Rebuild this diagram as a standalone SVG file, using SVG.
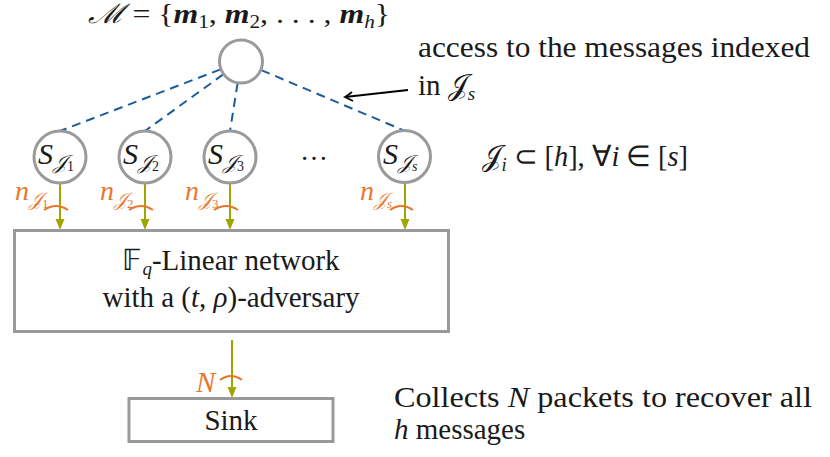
<svg xmlns="http://www.w3.org/2000/svg" width="830" height="457" viewBox="0 0 830 457">
<rect width="830" height="457" fill="#fff"/>
<g id="connectors">
<g stroke="#1c5c9a" stroke-width="2" stroke-dasharray="9 6" fill="none">
<line x1="220.5" y1="69.4" x2="60" y2="131"/>
<line x1="223.2" y1="74.4" x2="145" y2="131"/>
<line x1="237.6" y1="83.2" x2="230" y2="131"/>
<line x1="261.3" y1="70.1" x2="405" y2="131"/>
</g>
<g stroke="#9ea700" stroke-width="2" fill="none">
<line x1="60" y1="183" x2="60" y2="220"/>
<line x1="145" y1="183" x2="145" y2="220"/>
<line x1="230" y1="183" x2="230" y2="220"/>
<line x1="405" y1="183" x2="405" y2="220"/>
<line x1="232" y1="340" x2="232" y2="388"/>
</g>
<g fill="#9ea700">
<polygon points="55.5,219 64.5,219 60,230"/>
<polygon points="140.5,219 149.5,219 145,230"/>
<polygon points="225.5,219 234.5,219 230,230"/>
<polygon points="400.5,219 409.5,219 405,230"/>
<polygon points="227.5,387 236.5,387 232,398"/>
</g>
<g stroke="#e8772e" stroke-width="2" fill="none">
<path d="M44,210 Q56,202 68,210"/>
<path d="M129,210 Q141,202 153,210"/>
<path d="M214,210 Q226,202 238,210"/>
<path d="M390,210 Q401.5,202 413,210"/>
<path d="M220,380 Q231,372 242,380"/>
</g>
<text font-family="Liberation Serif" font-style="italic" fill="#e8772e" font-size="28" x="15" y="200">n<tspan font-size="19" dy="6">𝒥</tspan><tspan font-style="normal" font-size="13" dy="2">1</tspan></text>
<text font-family="Liberation Serif" font-style="italic" fill="#e8772e" font-size="28" x="100" y="200">n<tspan font-size="19" dy="6">𝒥</tspan><tspan font-style="normal" font-size="13" dy="2">2</tspan></text>
<text font-family="Liberation Serif" font-style="italic" fill="#e8772e" font-size="28" x="185" y="200">n<tspan font-size="19" dy="6">𝒥</tspan><tspan font-style="normal" font-size="13" dy="2">3</tspan></text>
<text font-family="Liberation Serif" font-style="italic" fill="#e8772e" font-size="28" x="360" y="200">n<tspan font-size="19" dy="6">𝒥</tspan><tspan font-size="13" dy="2">s</tspan></text>
<text font-family="Liberation Serif" font-style="italic" fill="#e8772e" font-size="29" x="196" y="392">N</text>
<path d="M408,90 L345,97" stroke="#000" stroke-width="1.8" fill="none"/>
<path d="M352,92 Q347,96 345,97 Q347,98 353,101" stroke="#000" stroke-width="1.8" fill="none"/>
</g>

<g id="messages">
<circle cx="241" cy="61.5" r="21.5" fill="#fff" stroke="#9a9a9a" stroke-width="3"/>
<text font-family="Liberation Serif" fill="#1a1a1a" x="88" y="23" font-size="27" textLength="302" lengthAdjust="spacingAndGlyphs"><tspan font-style="italic">ℳ</tspan> = {<tspan font-weight="bold" font-style="italic">m</tspan><tspan font-size="18" dy="5">1</tspan><tspan dy="-5">, </tspan><tspan font-weight="bold" font-style="italic">m</tspan><tspan font-size="18" dy="5">2</tspan><tspan dy="-5">, . . . , </tspan><tspan font-weight="bold" font-style="italic">m</tspan><tspan font-style="italic" font-size="18" dy="5">h</tspan><tspan dy="-5">}</tspan></text>
</g>
<g id="S1">
<circle cx="60" cy="157" r="26" fill="#fff" stroke="#9a9a9a" stroke-width="3"/>
<text font-family="Liberation Serif" fill="#1a1a1a" x="38" y="164" font-size="30" font-style="italic">S<tspan font-size="20" dy="5">𝒥</tspan><tspan font-style="normal" font-size="14" dy="2">1</tspan></text>
</g>
<g id="S2">
<circle cx="145" cy="157" r="26" fill="#fff" stroke="#9a9a9a" stroke-width="3"/>
<text font-family="Liberation Serif" fill="#1a1a1a" x="123" y="164" font-size="30" font-style="italic">S<tspan font-size="20" dy="5">𝒥</tspan><tspan font-style="normal" font-size="14" dy="2">2</tspan></text>
</g>
<g id="S3">
<circle cx="230" cy="157" r="26" fill="#fff" stroke="#9a9a9a" stroke-width="3"/>
<text font-family="Liberation Serif" fill="#1a1a1a" x="208" y="164" font-size="30" font-style="italic">S<tspan font-size="20" dy="5">𝒥</tspan><tspan font-style="normal" font-size="14" dy="2">3</tspan></text>
</g>
<g id="dots"><text font-family="Liberation Serif" fill="#1a1a1a" x="300" y="160" font-size="28">…</text></g>
<g id="Ss">
<circle cx="404.5" cy="156.5" r="26" fill="#fff" stroke="#9a9a9a" stroke-width="3"/>
<text font-family="Liberation Serif" fill="#1a1a1a" x="383" y="164" font-size="30" font-style="italic">S<tspan font-size="20" dy="5">𝒥</tspan><tspan font-size="14" dy="2">s</tspan></text>
</g>
<g id="network">
<rect x="14.5" y="230.5" width="434" height="101" fill="#fff" stroke="#9a9a9a" stroke-width="3"/>
<text font-family="Liberation Serif" fill="#1a1a1a" font-size="29" x="231" y="270" text-anchor="middle">𝔽<tspan font-style="italic" font-size="19" dy="5">q</tspan><tspan dy="-5">-Linear network</tspan></text>
<text font-family="Liberation Serif" fill="#1a1a1a" font-size="29" x="231" y="307" text-anchor="middle">with a (<tspan font-style="italic">t</tspan>, <tspan font-style="italic">ρ</tspan>)-adversary</text>
</g>
<g id="sink">
<rect x="129" y="398.5" width="204" height="43" fill="#fff" stroke="#9a9a9a" stroke-width="3"/>
<text font-family="Liberation Serif" fill="#1a1a1a" font-size="29" x="231" y="430" text-anchor="middle">Sink</text>
</g>
<g id="notes">
<text font-family="Liberation Serif" fill="#1a1a1a" font-size="29" x="418" y="57" textLength="392" lengthAdjust="spacingAndGlyphs">access to the messages indexed</text>
<text font-family="Liberation Serif" fill="#1a1a1a" font-size="29" x="418" y="95">in 𝒥<tspan font-style="italic" font-size="19" dy="5">s</tspan></text>
<text font-family="Liberation Serif" fill="#1a1a1a" font-size="29" x="482" y="166" textLength="206" lengthAdjust="spacingAndGlyphs">𝒥<tspan font-style="italic" font-size="19" dy="5">i</tspan><tspan dy="-5"> ⊂ [</tspan><tspan font-style="italic">h</tspan>], ∀<tspan font-style="italic">i</tspan> ∈ [<tspan font-style="italic">s</tspan>]</text>
<text font-family="Liberation Serif" fill="#1a1a1a" font-size="29" x="394" y="407" textLength="418" lengthAdjust="spacingAndGlyphs">Collects <tspan font-style="italic">N</tspan> packets to recover all</text>
<text font-family="Liberation Serif" fill="#1a1a1a" font-size="29" x="394" y="439"><tspan font-style="italic">h</tspan> messages</text>
</g>
</svg>
